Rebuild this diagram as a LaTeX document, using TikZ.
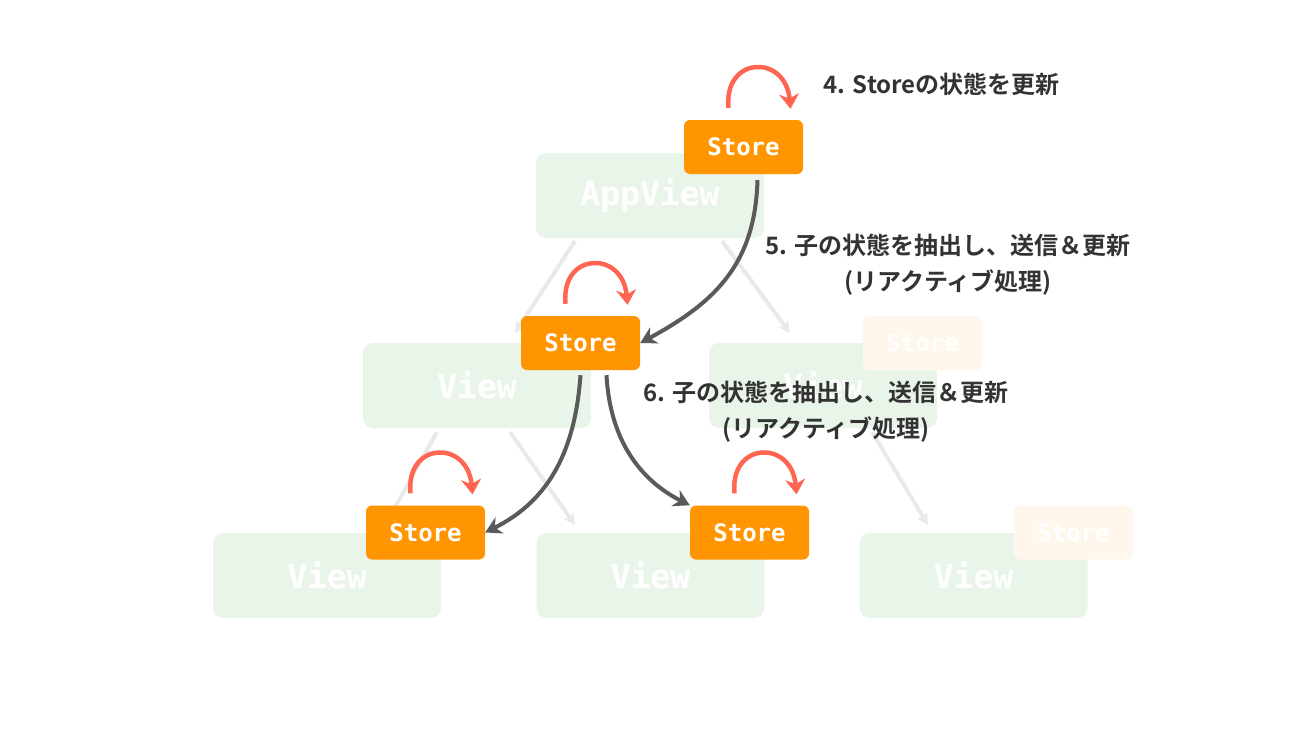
\documentclass[tikz,border=0pt]{standalone}
\usepackage{fontspec}
\newfontfamily\jp{Noto Sans CJK JP}[BoldFont={* Bold}]
\newfontfamily\mono{DejaVu Sans Mono}
\usetikzlibrary{arrows.meta,calc}
\definecolor{vg}{HTML}{EAF5E9}
\definecolor{org}{HTML}{FF9500}
\definecolor{redc}{HTML}{FF6550}
\definecolor{dk}{HTML}{5A5A5A}
\definecolor{lg}{HTML}{E9E9E9}
\definecolor{txt}{HTML}{333333}
\tikzset{
 view/.style={fill=vg,rounded corners=10pt,minimum width=228pt,minimum height=85pt,inner sep=0,text=white,font=\mono\bfseries\fontsize{33}{33}\selectfont},
 store/.style={fill=org,rounded corners=6pt,minimum width=119pt,minimum height=54pt,inner sep=0,text=white,font=\mono\bfseries\fontsize{24}{24}\selectfont},
 fstore/.style={store,fill=org!8,text=white},
 lt/.style={draw=lg,line width=4pt,-{Stealth[length=12pt,width=12pt]}},
 dkarr/.style={draw=dk,line width=4pt,-{Stealth[length=16pt,width=18pt]}},
 loop/.style={draw=redc,line width=4.5pt,-{Stealth[length=15pt,width=20pt]}},
 lab/.style={text=txt,font=\jp\bfseries\fontsize{24}{36}\selectfont,align=center}
}
\begin{document}
\begin{tikzpicture}[x=1pt,y=-1pt]
\useasboundingbox (0,0) rectangle (1300,731);
\node[view] (app) at (650,195.5) {AppView};
\node[view] (vl) at (477,385.5) {View};
\node[view] (vr) at (823,385.5) {View};
\node[view] (b1) at (327,575.5) {View};
\node[view] (b2) at (650.5,575.5) {View};
\node[view] (b3) at (973.5,575.5) {View};
\draw[lt] (575,241) -- (515,333);
\draw[lt] (722,241) -- (790,333);
\draw[lt] (437,432) -- (388,520);
\draw[lt] (510,432) -- (575,525);
\draw[lt] (872,432) -- (928,525);
\node[fstore] (fs1) at (922.5,343) {Store};
\node[fstore] (fs2) at (1073.5,532.5) {Store};
\node[store] (s0) at (743.5,147) {Store};
\node[store] (s1) at (580.5,343) {Store};
\node[store] (s2) at (425.5,532.5) {Store};
\node[store] (s3) at (749.5,532.5) {Store};
\draw[dkarr] ([xshift=14pt,yshift=-6pt]s0.south) .. controls (755,260) and (720,300) .. (s1.east);
\draw[dkarr] ([xshift=0pt,yshift=-5pt]s1.south) .. controls (575,450) and (550,500) .. (s2.east);
\draw[dkarr] ([xshift=26pt,yshift=-5pt]s1.south) .. controls (610,440) and (640,480) .. (s3.north west);
\foreach \s in {s0,s1,s2,s3}{
 \draw[loop] ($(\s.north)+(-15,-12)$) .. controls ($(\s.north)+(-20,-64)$) and ($(\s.north)+(42,-66)$) .. ($(\s.north)+(47,-11)$);
}
\node[lab,anchor=west] (t4) at (820,84) {4. Storeの状態を更新};
\node[lab] (t5) at (948,265) {5. 子の状態を抽出し、送信＆更新\\(リアクティブ処理)};
\node[lab] (t6) at (826,412) {6. 子の状態を抽出し、送信＆更新\\(リアクティブ処理)};
\end{tikzpicture}
\end{document}
